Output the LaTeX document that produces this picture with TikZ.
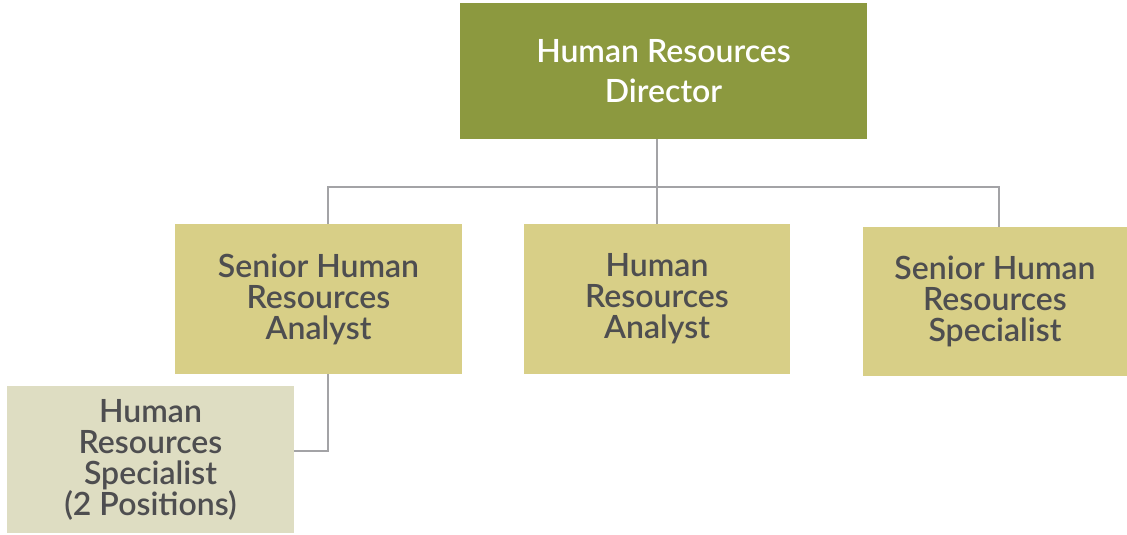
\documentclass[tikz,border=0pt]{standalone}
\usepackage{fontspec}
\setmainfont{Lato}[BoldFont={Lato Semibold}]
\definecolor{dirfill}{HTML}{8C993F}
\definecolor{midfill}{HTML}{D8CF87}
\definecolor{lowfill}{HTML}{DEDDC2}
\definecolor{linegray}{HTML}{A3A3A6}
\definecolor{txtgray}{HTML}{4E4E50}
\tikzset{
  box/.style={draw=none, inner sep=0pt, align=center, font=\fontsize{32}{31}\selectfont\bfseries, text=txtgray},
  dirbox/.style={box, fill=dirfill, text=white, minimum width=407pt, minimum height=136pt, font=\fontsize{32}{40}\selectfont\bfseries},
  midbox/.style={box, fill=midfill},
  lowbox/.style={box, fill=lowfill},
  conn/.style={draw=linegray, line width=2pt}
}
\begin{document}
\begin{tikzpicture}[x=1pt,y=-1pt]
\useasboundingbox (0,0) rectangle (1127,535);
\node[dirbox] (dir) at (663.5,71) {Human Resources\\Director};
\node[midbox, minimum width=287pt, minimum height=150pt] (shra) at (318.5,299) {Senior Human\\Resources\\Analyst};
\node[midbox, minimum width=266pt, minimum height=150pt] (hra) at (657,299) {Human\\Resources\\Analyst};
\node[midbox, minimum width=264pt, minimum height=149pt] (shrs) at (995,301.5) {Senior Human\\Resources\\Specialist};
\node[lowbox, minimum width=287pt, minimum height=147pt] (hrs) at (150.5,459.5) {Human\\Resources\\Specialist\\(2 Positions)};
\coordinate (busL) at (328,187);
\coordinate (busR) at (999,187);
\coordinate (drop) at (328,451);
\draw[conn] (dir.south -| hra.north) -- (hra.north);
\draw[conn] (shra.north -| busL) -- (busL) -- (busR) -- (shrs.north -| busR);
\draw[conn] (shra.south -| drop) -- (drop) -- (hrs.east |- drop);
\end{tikzpicture}
\end{document}
